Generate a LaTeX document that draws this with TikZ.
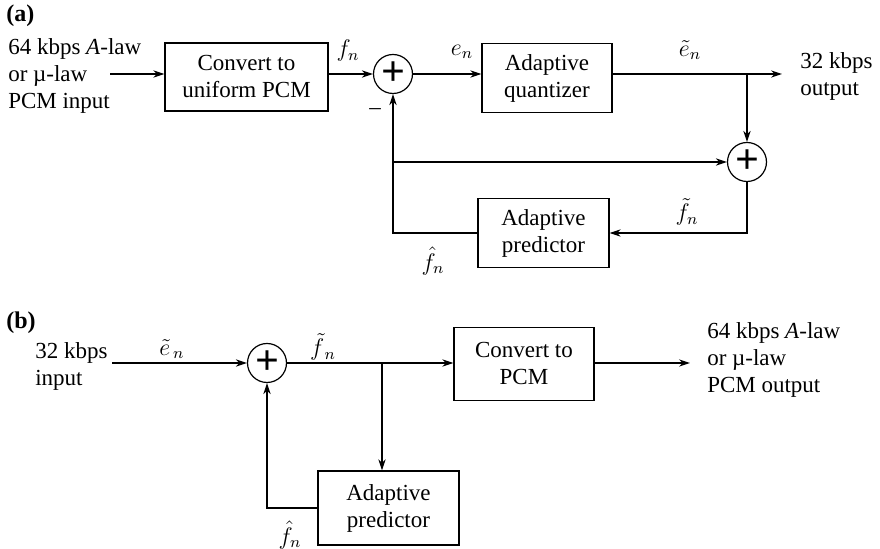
\documentclass[tikz,border=0pt]{standalone}
\usepackage{fontspec}
\setmainfont{Liberation Serif}
\usepackage{tikz}
\usetikzlibrary{arrows.meta,calc}

\begin{document}
\begin{tikzpicture}[x=0.5pt,y=-0.5pt,line width=0.6pt,
    every node/.style={font=\fontsize{11.5}{13.5}\selectfont},
    blockbox/.style={draw,align=center,inner sep=0pt},
    sumnode/.style={draw,circle,minimum size=19.5pt,inner sep=0pt,
      font=\fontsize{21}{21}\selectfont\bfseries},
    sig/.style={-{Stealth[length=5.5pt,width=3.6pt]}}]

    \useasboundingbox (0,0) rectangle (880,549);

    % (a) encoder
    \node[font=\fontsize{12}{14}\selectfont\bfseries,anchor=west] at (-1,16) {(a)};
    \node[anchor=west,align=left] (inlbl) at (1,76) {64 kbps \textit{A}-law\\or µ-law\\PCM input};
    \coordinate (ina) at (110,74);
    \node[blockbox,minimum width=81.5pt,minimum height=34pt] (conv) at (246.5,77) {Convert to\\uniform PCM};
    \node[sumnode] (sum1) at (393,74) {+};
    \node[blockbox,minimum width=65pt,minimum height=34.5pt] (quant) at (547,78) {Adaptive\\quantizer};
    \coordinate (outa) at (782,74);
    \node[anchor=west,align=left] (outlbl) at (793,76) {32 kbps\\output};
    \node[sumnode] (sum2) at (747,162) {+};
    \node[blockbox,minimum width=65.5pt,minimum height=34.5pt] (preda) at (543.5,233) {Adaptive\\predictor};

    \draw[sig] (ina) -- (ina -| conv.west);
    \draw[sig] (conv.east |- sum1) -- (sum1.west);
    \draw[sig] (sum1.east) -- (sum1 -| quant.west);
    \draw[sig] (quant.east |- sum1) -- (outa);
    \draw[sig] (sum2 |- sum1) -- (sum2.north);
    \draw[sig] (sum2.south) |- (preda.east);
    \draw[sig] (preda.west) -| (sum1.south);
    \draw[sig] (sum1 |- sum2) -- (sum2.west);

    \node at (348,51) {$f_n$};
    \node at (462,52) {$e_n$};
    \node at (690,50) {$\tilde{e}_n$};
    \node at (375,112) {–};
    \node at (687,212) {$\tilde{f}_n$};
    \node at (433,261) {$\hat{f}_n$};

    % (b) decoder
    \node[font=\fontsize{12}{14}\selectfont\bfseries,anchor=west] at (-1,323) {(b)};
    \node[anchor=west,align=left] (inblbl) at (28,366) {32 kbps\\input};
    \coordinate (inb) at (112,363);
    \node[sumnode] (sum3) at (267,363) {+};
    \coordinate (tapb) at (382,363);
    \node[blockbox,minimum width=70.5pt,minimum height=37pt] (predb) at (388.5,508) {Adaptive\\predictor};
    \node[blockbox,minimum width=70pt,minimum height=36.5pt] (pcm) at (524,364) {Convert to\\PCM};
    \coordinate (outb) at (690,363);
    \node[anchor=west,align=left] (outblbl) at (700,360) {64 kbps \textit{A}-law\\or µ-law\\PCM output};

    \draw[sig] (inb) -- (sum3.west);
    \draw[sig] (sum3.east) -- (sum3 -| pcm.west);
    \draw[sig] (tapb) -- (tapb |- predb.north);
    \draw[sig] (predb.west) -| (sum3.south);
    \draw[sig] (pcm.east |- outb) -- (outb);

    \node at (172,349) {$\tilde{e}_{\,n}$};
    \node at (323,347) {$\tilde{f}_{\,n}$};
    \node at (290,535) {$\hat{f}_n$};

\end{tikzpicture}
\end{document}
